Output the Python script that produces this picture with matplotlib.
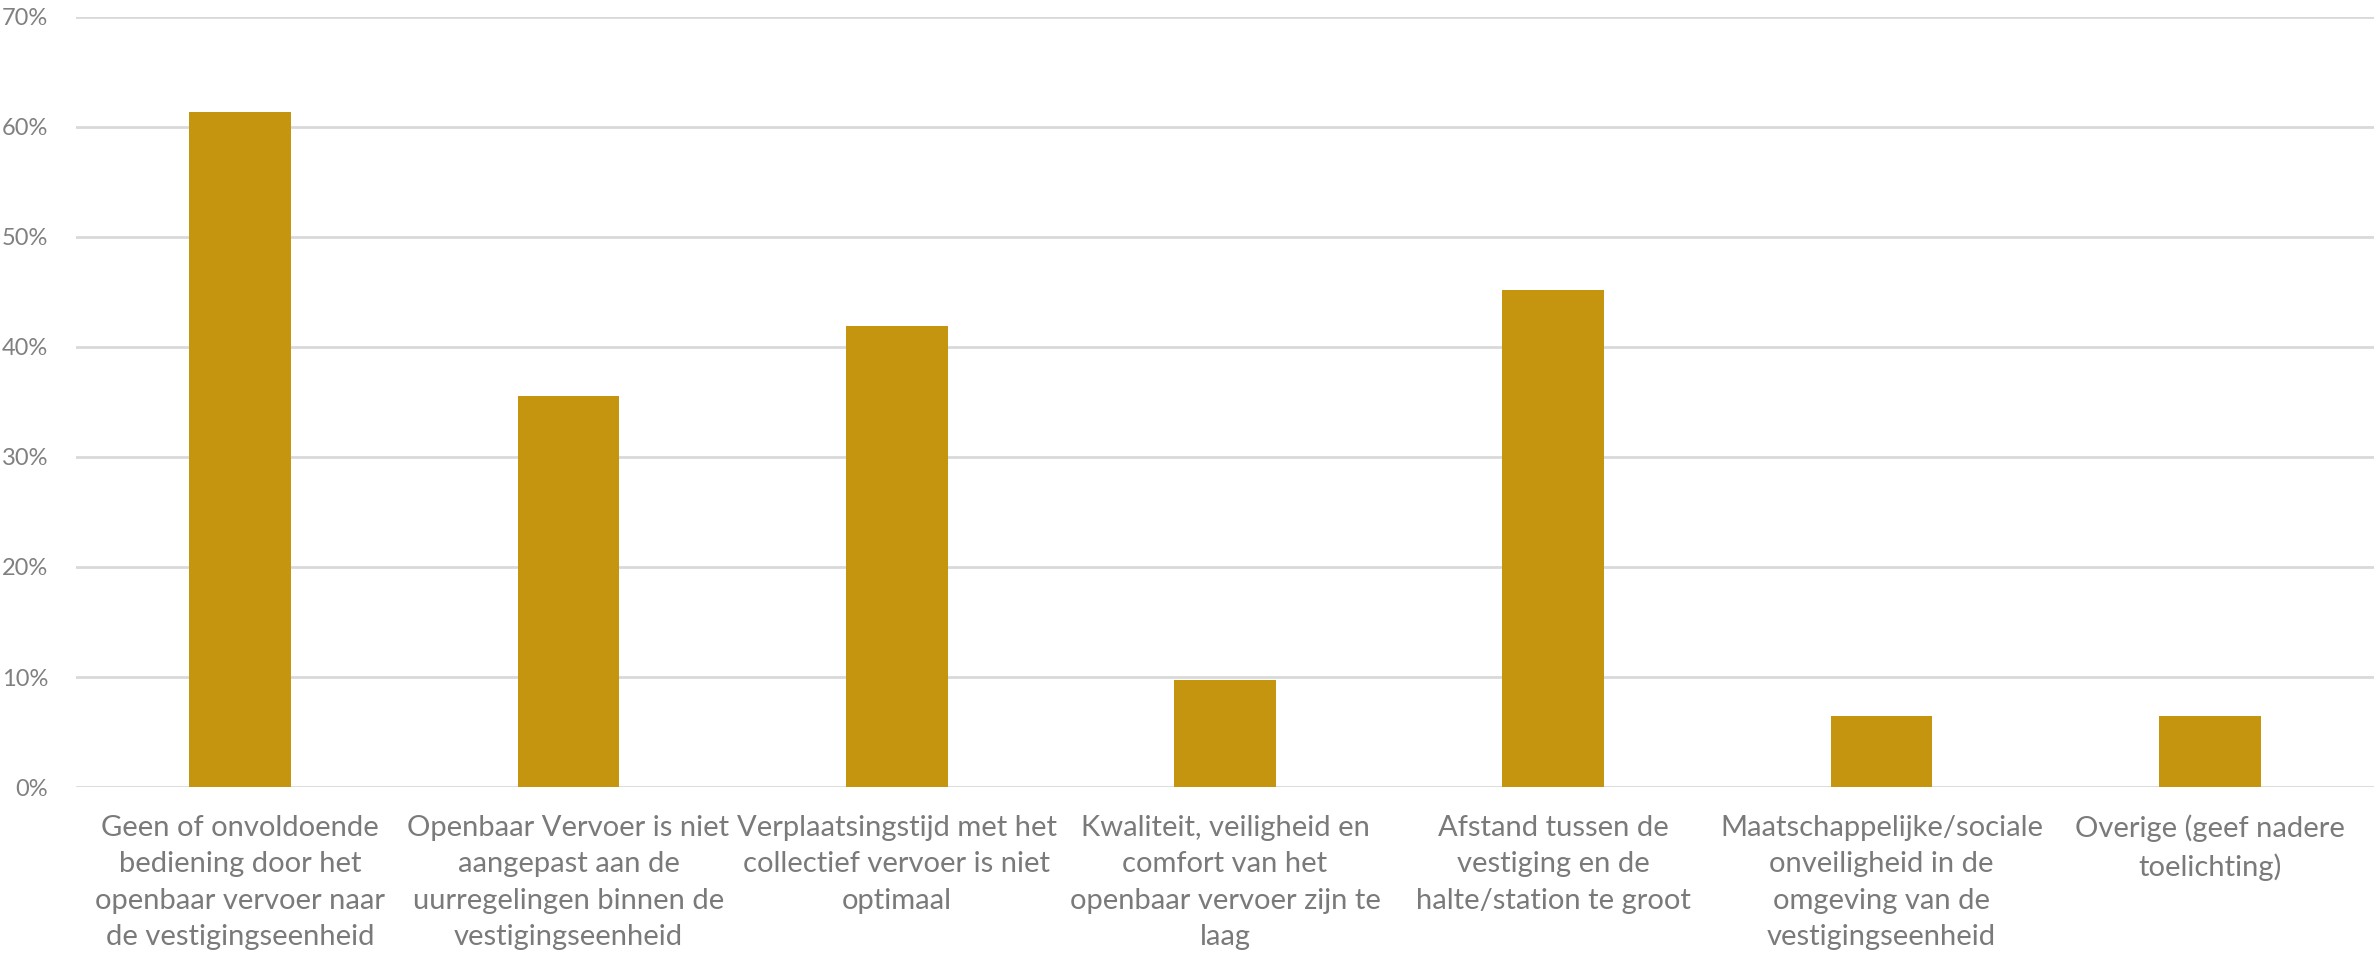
import matplotlib.pyplot as plt
from matplotlib.ticker import PercentFormatter

# ------------------------------------------------------------
# DATA
# ------------------------------------------------------------
categories = [
    "Geen of onvoldoende\nbediening door het\nopenbaar vervoer naar\nde vestigingseenheid",
    "Openbaar Vervoer is niet\naangepast aan de\nuurregelingen binnen de\nvestigingseenheid",
    "Verplaatsingstijd met het\ncollectief vervoer is niet\noptimaal",
    "Kwaliteit, veiligheid en\ncomfort van het\nopenbaar vervoer zijn te\nlaag",
    "Afstand tussen de\nvestiging en de\nhalte/station te groot",
    "Maatschappelijke/sociale\nonveiligheid in de\nomgeving van de\nvestigingseenheid",
    "Overige (geef nadere\ntoelichting)",
]
values = [61.3, 35.5, 41.9, 9.7, 45.2, 6.45, 6.45]
y_ticks = [0, 10, 20, 30, 40, 50, 60, 70]

BAR_COLOR = "#C5950F"
GRID_COLOR = "#D9D9D9"
TEXT_COLOR = "#7A7A7A"
TICK_COLOR = "#808080"

plt.rcParams["font.family"] = ["Lato", "DejaVu Sans"]

fig = plt.figure(figsize=(23.77, 9.61), dpi=100)
ax = fig.add_axes([0.032, 0.181, 0.9667, 0.8016])

x = range(len(categories))
ax.bar(x, values, width=0.31, color=BAR_COLOR, zorder=3)

ax.set_xlim(-0.5, len(categories) - 0.5)
ax.set_ylim(0, 70)
ax.set_yticks(y_ticks)
ax.yaxis.set_major_formatter(PercentFormatter(decimals=0))
ax.set_xticks(list(x))
ax.set_xticklabels(categories, fontsize=21, color=TEXT_COLOR,
                   linespacing=1.5)
ax.tick_params(axis="x", length=0, pad=20)
ax.tick_params(axis="y", length=0, pad=20, labelsize=17, labelcolor=TICK_COLOR)

ax.grid(axis="y", color=GRID_COLOR, linewidth=2, zorder=0)
for side in ["top", "right", "left", "bottom"]:
    ax.spines[side].set_visible(False)

fig.savefig("out.png", dpi=100)
plt.close(fig)
